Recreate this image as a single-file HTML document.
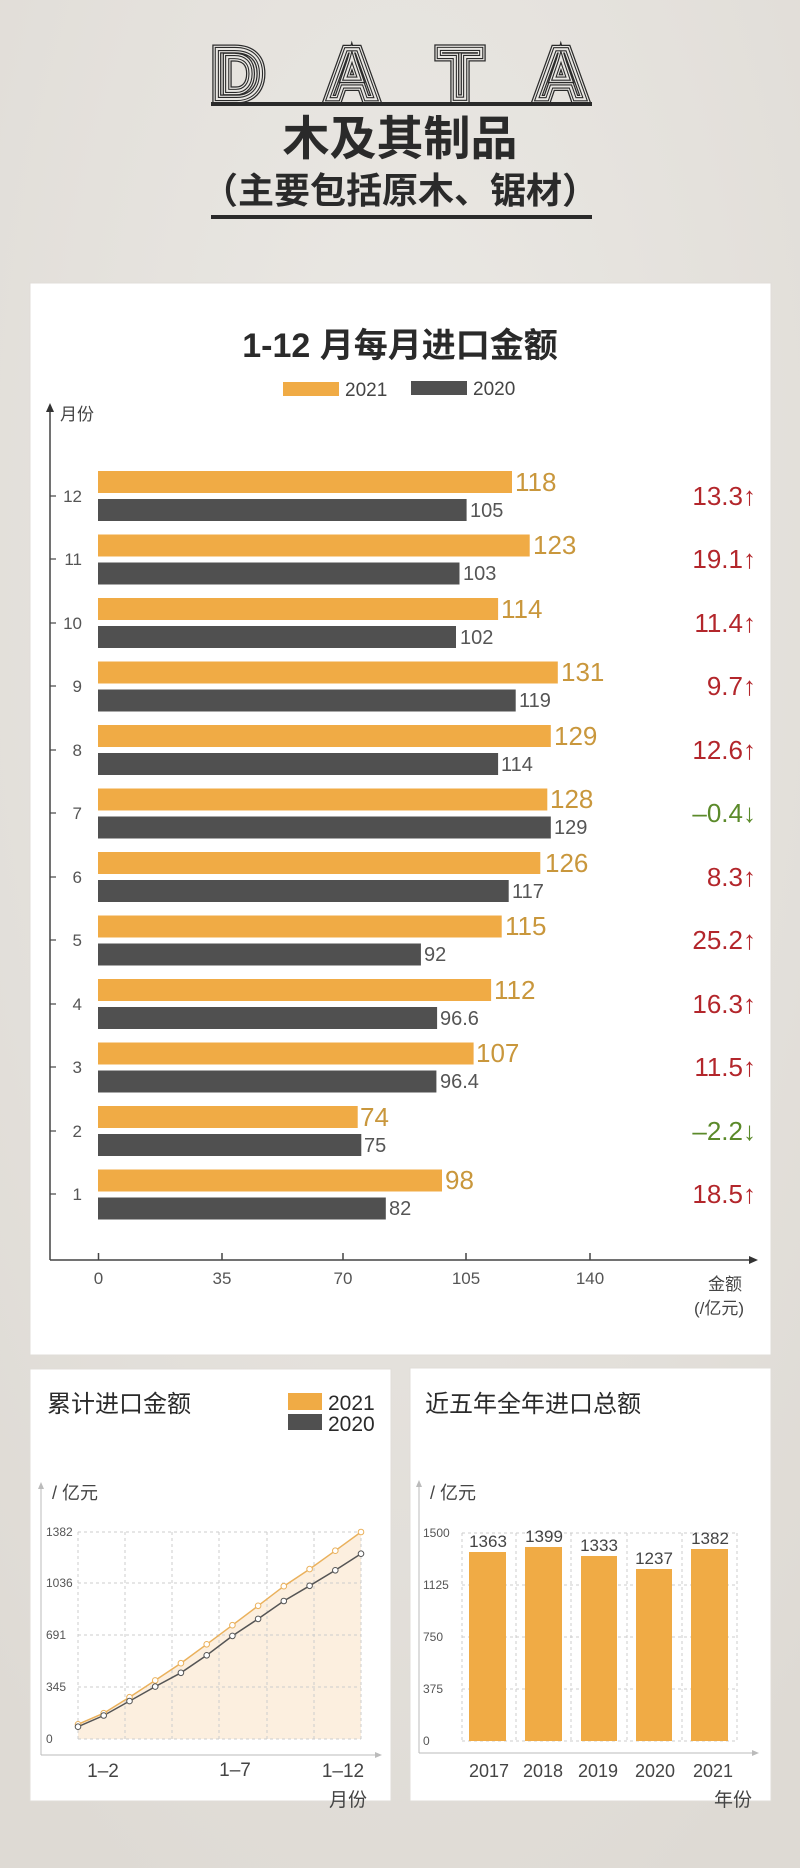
<!DOCTYPE html>
<html><head><meta charset="utf-8"><style>
html,body{margin:0;padding:0;background:#e6e3de;}
svg{display:block;font-family:"Liberation Sans","Noto Sans CJK SC",sans-serif;}
</style></head><body>
<svg width="800" height="1868" viewBox="0 0 800 1868" xmlns="http://www.w3.org/2000/svg">
<defs>
<radialGradient id="bg" cx="50%" cy="30%" r="80%"><stop offset="0" stop-color="#ebe9e5"/><stop offset="1" stop-color="#dedad4"/></radialGradient>
</defs>
<rect width="800" height="1868" fill="url(#bg)"/>
<!-- header -->
<g font-family="Liberation Sans,sans-serif" font-weight="bold" font-size="72" text-anchor="middle">
<g fill="none" stroke="#2a2a2a" stroke-width="9"><text x="238" y="99">D</text><text x="352" y="99">A</text><text x="460" y="99">T</text><text x="561" y="99">A</text></g>
<g fill="none" stroke="#e9e7e3" stroke-width="6.5"><text x="238" y="99">D</text><text x="352" y="99">A</text><text x="460" y="99">T</text><text x="561" y="99">A</text></g>
<g fill="none" stroke="#2a2a2a" stroke-width="4.2"><text x="238" y="99">D</text><text x="352" y="99">A</text><text x="460" y="99">T</text><text x="561" y="99">A</text></g>
<g fill="none" stroke="#e9e7e3" stroke-width="2"><text x="238" y="99">D</text><text x="352" y="99">A</text><text x="460" y="99">T</text><text x="561" y="99">A</text></g>
</g>
<rect x="211" y="102" width="381" height="4" fill="#2a2a2a"/>
<text x="400" y="155" text-anchor="middle" font-size="47" font-weight="bold" fill="#2a2a2a">木及其制品</text>
<text x="400" y="203" text-anchor="middle" font-size="36" font-weight="bold" fill="#2a2a2a">（主要包括原木、锯材）</text>
<rect x="211" y="215" width="381" height="4" fill="#2a2a2a"/>

<!-- main card -->
<rect x="30" y="283" width="741" height="1072" fill="#fff" stroke="#e0ddd8"/>
<text x="400" y="357" text-anchor="middle" font-size="34" font-weight="bold" fill="#2a2a2a">1-12 月每月进口金额</text>
<rect x="283" y="382" width="56" height="14" fill="#f0ab45"/>
<text x="345" y="396" font-size="19" fill="#444">2021</text>
<rect x="411" y="381" width="56" height="14" fill="#505050"/>
<text x="473" y="395" font-size="19" fill="#444">2020</text>
<line x1="50" y1="410" x2="50" y2="1260" stroke="#444" stroke-width="1.5"/>
<polygon points="50,403 46,412 54,412" fill="#333"/>
<text x="60" y="420" font-size="17" fill="#444">月份</text>
<line x1="50" y1="1260" x2="750" y2="1260" stroke="#444" stroke-width="1.5"/>
<polygon points="758,1260 749,1256 749,1264" fill="#333"/>
<g stroke="#444" stroke-width="1.5">
<line x1="98.5" y1="1253" x2="98.5" y2="1260"/><line x1="222" y1="1253" x2="222" y2="1260"/><line x1="343" y1="1253" x2="343" y2="1260"/><line x1="466" y1="1253" x2="466" y2="1260"/><line x1="590" y1="1253" x2="590" y2="1260"/>
</g>
<g font-size="17" fill="#555" text-anchor="middle">
<text x="98.5" y="1284">0</text><text x="222" y="1284">35</text><text x="343" y="1284">70</text><text x="466" y="1284">105</text><text x="590" y="1284">140</text>
</g>
<text x="742" y="1290" font-size="17" fill="#444" text-anchor="end">金额</text>
<text x="744" y="1314" font-size="17" fill="#444" text-anchor="end">(/亿元)</text>

<g fill="#f0ab45">
<rect x="98" y="471" width="414" height="22"/>
<rect x="98" y="534.5" width="431.7" height="22"/>
<rect x="98" y="598" width="400.1" height="22"/>
<rect x="98" y="661.5" width="459.8" height="22"/>
<rect x="98" y="725" width="452.8" height="22"/>
<rect x="98" y="788.5" width="449.3" height="22"/>
<rect x="98" y="852" width="442.3" height="22"/>
<rect x="98" y="915.5" width="403.7" height="22"/>
<rect x="98" y="979" width="393.1" height="22"/>
<rect x="98" y="1042.5" width="375.6" height="22"/>
<rect x="98" y="1106" width="259.7" height="22"/>
<rect x="98" y="1169.5" width="344" height="22"/>
</g>
<g fill="#505050">
<rect x="98" y="499" width="368.6" height="22"/>
<rect x="98" y="562.5" width="361.5" height="22"/>
<rect x="98" y="626" width="358" height="22"/>
<rect x="98" y="689.5" width="417.7" height="22"/>
<rect x="98" y="753" width="400.1" height="22"/>
<rect x="98" y="816.5" width="452.8" height="22"/>
<rect x="98" y="880" width="410.7" height="22"/>
<rect x="98" y="943.5" width="322.9" height="22"/>
<rect x="98" y="1007" width="339.1" height="22"/>
<rect x="98" y="1070.5" width="338.4" height="22"/>
<rect x="98" y="1134" width="263.3" height="22"/>
<rect x="98" y="1197.5" width="287.8" height="22"/>
</g>
<g font-size="26" fill="#c9973c">
<text x="515" y="491">118</text>
<text x="533" y="554">123</text>
<text x="501" y="618">114</text>
<text x="561" y="681">131</text>
<text x="554" y="745">129</text>
<text x="550" y="808">128</text>
<text x="545" y="872">126</text>
<text x="505" y="935">115</text>
<text x="494" y="999">112</text>
<text x="476" y="1062">107</text>
<text x="360" y="1126">74</text>
<text x="445" y="1189">98</text>
</g>
<g font-size="20" fill="#555">
<text x="470" y="517">105</text>
<text x="463" y="580">103</text>
<text x="460" y="644">102</text>
<text x="519" y="707">119</text>
<text x="501" y="771">114</text>
<text x="554" y="834">129</text>
<text x="512" y="898">117</text>
<text x="424" y="961">92</text>
<text x="440" y="1025">96.6</text>
<text x="440" y="1088">96.4</text>
<text x="364" y="1152">75</text>
<text x="389" y="1215">82</text>
</g>
<g font-size="17" fill="#555" text-anchor="end">
<text x="82" y="502">12</text><text x="82" y="565">11</text><text x="82" y="629">10</text><text x="82" y="692">9</text><text x="82" y="756">8</text><text x="82" y="819">7</text><text x="82" y="883">6</text><text x="82" y="946">5</text><text x="82" y="1010">4</text><text x="82" y="1073">3</text><text x="82" y="1137">2</text><text x="82" y="1200">1</text>
</g>
<g stroke="#444" stroke-width="1.2">
<line x1="50" y1="496" x2="56" y2="496"/><line x1="50" y1="559" x2="56" y2="559"/><line x1="50" y1="623" x2="56" y2="623"/><line x1="50" y1="686" x2="56" y2="686"/><line x1="50" y1="750" x2="56" y2="750"/><line x1="50" y1="813" x2="56" y2="813"/><line x1="50" y1="877" x2="56" y2="877"/><line x1="50" y1="940" x2="56" y2="940"/><line x1="50" y1="1004" x2="56" y2="1004"/><line x1="50" y1="1067" x2="56" y2="1067"/><line x1="50" y1="1131" x2="56" y2="1131"/><line x1="50" y1="1194" x2="56" y2="1194"/>
</g>
<g font-size="26" text-anchor="end">
<text x="756" y="505" fill="#b3262b">13.3↑</text>
<text x="756" y="568" fill="#b3262b">19.1↑</text>
<text x="756" y="632" fill="#b3262b">11.4↑</text>
<text x="756" y="695" fill="#b3262b">9.7↑</text>
<text x="756" y="759" fill="#b3262b">12.6↑</text>
<text x="756" y="822" fill="#5b8a2a">–0.4↓</text>
<text x="756" y="886" fill="#b3262b">8.3↑</text>
<text x="756" y="949" fill="#b3262b">25.2↑</text>
<text x="756" y="1013" fill="#b3262b">16.3↑</text>
<text x="756" y="1076" fill="#b3262b">11.5↑</text>
<text x="756" y="1140" fill="#5b8a2a">–2.2↓</text>
<text x="756" y="1203" fill="#b3262b">18.5↑</text>
</g>

<!-- left card -->
<rect x="30" y="1369" width="361" height="432" fill="#fff" stroke="#e0ddd8"/>
<text x="47" y="1412" font-size="24" fill="#2a2a2a">累计进口金额</text>
<rect x="288" y="1393" width="34" height="17" fill="#f0ab45"/>
<rect x="288" y="1414" width="34" height="16" fill="#505050"/>
<text x="328" y="1410" font-size="21" fill="#2a2a2a">2021</text>
<text x="328" y="1431" font-size="21" fill="#2a2a2a">2020</text>
<line x1="41" y1="1488" x2="41" y2="1755" stroke="#bbb"/>
<polygon points="41,1482 38,1489 44,1489" fill="#bbb"/>
<line x1="41" y1="1755" x2="378" y2="1755" stroke="#bbb"/>
<polygon points="382,1755 375,1752 375,1758" fill="#bbb"/>
<text x="52" y="1499" font-size="18" fill="#444">/ 亿元</text>
<polygon points="78,1724.3 103.7,1713.2 129.5,1697.2 155.2,1680.4 180.9,1663.2 206.7,1644.3 232.4,1625.2 258.1,1605.8 283.8,1586.2 309.6,1569.1 335.3,1550.7 361,1532 361,1739 78,1739" fill="#fcefdf"/>
<g stroke="#ccc" stroke-dasharray="3 3" stroke-width="1">
<line x1="78" y1="1532" x2="361" y2="1532"/><line x1="78" y1="1583" x2="361" y2="1583"/><line x1="78" y1="1635" x2="361" y2="1635"/><line x1="78" y1="1687" x2="361" y2="1687"/><line x1="78" y1="1739" x2="361" y2="1739"/>
<line x1="78" y1="1532" x2="78" y2="1739"/><line x1="125" y1="1532" x2="125" y2="1739"/><line x1="172" y1="1532" x2="172" y2="1739"/><line x1="219" y1="1532" x2="219" y2="1739"/><line x1="267" y1="1532" x2="267" y2="1739"/><line x1="314" y1="1532" x2="314" y2="1739"/><line x1="361" y1="1532" x2="361" y2="1739"/>
</g>
<g font-size="12" fill="#555">
<text x="46" y="1536">1382</text><text x="46" y="1587">1036</text><text x="46" y="1639">691</text><text x="46" y="1691">345</text><text x="46" y="1743">0</text>
</g>
<polyline points="78,1724.3 103.7,1713.2 129.5,1697.2 155.2,1680.4 180.9,1663.2 206.7,1644.3 232.4,1625.2 258.1,1605.8 283.8,1586.2 309.6,1569.1 335.3,1550.7 361,1532" fill="none" stroke="#eab15c" stroke-width="1.5"/>
<polyline points="78,1726.7 103.7,1715.5 129.5,1701.1 155.2,1686.6 180.9,1672.8 206.7,1655.3 232.4,1635.9 258.1,1618.9 283.8,1601 309.6,1585.8 335.3,1570.3 361,1553.7" fill="none" stroke="#555" stroke-width="1.5"/>
<g fill="#fff" stroke="#eab15c" stroke-width="1">
<circle cx="78" cy="1724.3" r="2.8"/><circle cx="103.7" cy="1713.2" r="2.8"/><circle cx="129.5" cy="1697.2" r="2.8"/><circle cx="155.2" cy="1680.4" r="2.8"/><circle cx="180.9" cy="1663.2" r="2.8"/><circle cx="206.7" cy="1644.3" r="2.8"/><circle cx="232.4" cy="1625.2" r="2.8"/><circle cx="258.1" cy="1605.8" r="2.8"/><circle cx="283.8" cy="1586.2" r="2.8"/><circle cx="309.6" cy="1569.1" r="2.8"/><circle cx="335.3" cy="1550.7" r="2.8"/><circle cx="361" cy="1532" r="2.8"/>
</g>
<g fill="#fff" stroke="#555" stroke-width="1">
<circle cx="78" cy="1726.7" r="2.8"/><circle cx="103.7" cy="1715.5" r="2.8"/><circle cx="129.5" cy="1701.1" r="2.8"/><circle cx="155.2" cy="1686.6" r="2.8"/><circle cx="180.9" cy="1672.8" r="2.8"/><circle cx="206.7" cy="1655.3" r="2.8"/><circle cx="232.4" cy="1635.9" r="2.8"/><circle cx="258.1" cy="1618.9" r="2.8"/><circle cx="283.8" cy="1601" r="2.8"/><circle cx="309.6" cy="1585.8" r="2.8"/><circle cx="335.3" cy="1570.3" r="2.8"/><circle cx="361" cy="1553.7" r="2.8"/>
</g>
<g font-size="19" fill="#444" text-anchor="middle">
<text x="103" y="1777">1–2</text><text x="235" y="1776">1–7</text><text x="343" y="1777">1–12</text>
</g>
<text x="367" y="1806" font-size="19" fill="#444" text-anchor="end">月份</text>

<!-- right card -->
<rect x="410" y="1368" width="361" height="433" fill="#fff" stroke="#e0ddd8"/>
<text x="425" y="1412" font-size="24" fill="#2a2a2a">近五年全年进口总额</text>
<line x1="419" y1="1486" x2="419" y2="1753" stroke="#bbb"/>
<polygon points="419,1480 416,1487 422,1487" fill="#bbb"/>
<line x1="419" y1="1753" x2="755" y2="1753" stroke="#bbb"/>
<polygon points="759,1753 752,1750 752,1756" fill="#bbb"/>
<text x="430" y="1499" font-size="18" fill="#444">/ 亿元</text>
<g stroke="#ccc" stroke-dasharray="3 3" stroke-width="1">
<line x1="462" y1="1533" x2="737" y2="1533"/><line x1="462" y1="1585" x2="737" y2="1585"/><line x1="462" y1="1637" x2="737" y2="1637"/><line x1="462" y1="1689" x2="737" y2="1689"/><line x1="462" y1="1741" x2="737" y2="1741"/>
<line x1="462" y1="1533" x2="462" y2="1741"/><line x1="516" y1="1533" x2="516" y2="1741"/><line x1="571" y1="1533" x2="571" y2="1741"/><line x1="627" y1="1533" x2="627" y2="1741"/><line x1="682" y1="1533" x2="682" y2="1741"/><line x1="737" y1="1533" x2="737" y2="1741"/>
</g>
<g font-size="12" fill="#555">
<text x="423" y="1537">1500</text><text x="423" y="1589">1125</text><text x="423" y="1641">750</text><text x="423" y="1693">375</text><text x="423" y="1745">0</text>
</g>
<g fill="#f0ab45">
<rect x="469" y="1552" width="37" height="189"/>
<rect x="525" y="1547" width="37" height="194"/>
<rect x="581" y="1556" width="36" height="185"/>
<rect x="636" y="1569" width="36" height="172"/>
<rect x="691" y="1549" width="37" height="192"/>
</g>
<g font-size="17" fill="#444" text-anchor="middle">
<text x="488" y="1547">1363</text><text x="544" y="1542">1399</text><text x="599" y="1551">1333</text><text x="654" y="1564">1237</text><text x="710" y="1544">1382</text>
</g>
<g font-size="18" fill="#444" text-anchor="middle">
<text x="489" y="1777">2017</text><text x="543" y="1777">2018</text><text x="598" y="1777">2019</text><text x="655" y="1777">2020</text><text x="713" y="1777">2021</text>
</g>
<text x="752" y="1806" font-size="19" fill="#444" text-anchor="end">年份</text>
</svg>
</body></html>
